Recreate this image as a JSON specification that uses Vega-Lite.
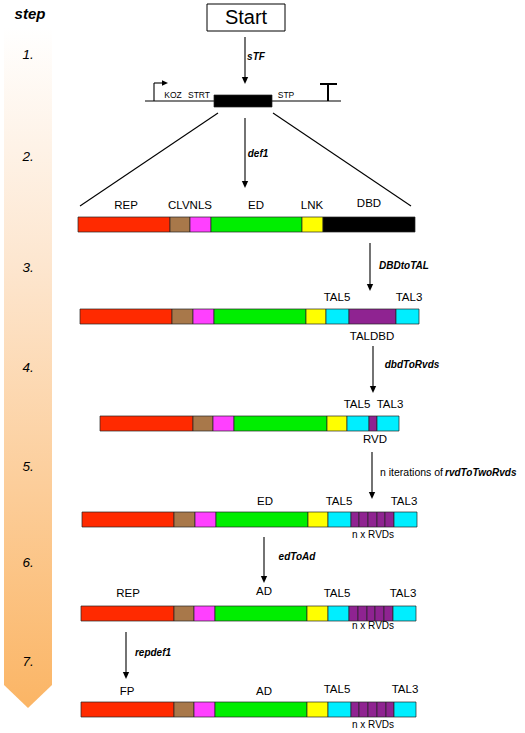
{
 "$schema": "https://vega.github.io/schema/vega-lite/v6.json",
 "width": 525, "height": 733, "padding": 0, "autosize": {"type": "none"},
 "background": "white",
 "config": {"view": {"stroke": null}, "font": "Liberation Sans"},
 "datasets": {
  "grad": [{"x":4,"y":27,"y2":685},{"x":28,"y":27,"y2":708},{"x":52,"y":27,"y2":685}],
  "segs": [
   {"part":"CDS","x":214,"x2":272,"y":95,"y2":107},
   {"part":"REP","x":78,"x2":170,"y":217,"y2":232},{"part":"CLV","x":170,"x2":190,"y":217,"y2":232},{"part":"NLS","x":190,"x2":211,"y":217,"y2":232},{"part":"ED","x":211,"x2":302,"y":217,"y2":232},{"part":"LNK","x":302,"x2":323,"y":217,"y2":232},{"part":"DBD","x":323,"x2":415,"y":217,"y2":232},
   {"part":"REP","x":80,"x2":172,"y":309,"y2":324},{"part":"CLV","x":172,"x2":193,"y":309,"y2":324},{"part":"NLS","x":193,"x2":214,"y":309,"y2":324},{"part":"ED","x":214,"x2":306,"y":309,"y2":324},{"part":"LNK","x":306,"x2":326,"y":309,"y2":324},{"part":"TAL","x":326,"x2":349,"y":309,"y2":324},{"part":"RVD","x":349,"x2":396,"y":309,"y2":324},{"part":"TAL","x":396,"x2":419,"y":309,"y2":324},
   {"part":"REP","x":100,"x2":193,"y":416,"y2":431},{"part":"CLV","x":193,"x2":213,"y":416,"y2":431},{"part":"NLS","x":213,"x2":234,"y":416,"y2":431},{"part":"ED","x":234,"x2":327,"y":416,"y2":431},{"part":"LNK","x":327,"x2":347,"y":416,"y2":431},{"part":"TAL","x":347,"x2":369,"y":416,"y2":431},{"part":"RVD","x":369,"x2":377,"y":416,"y2":431},{"part":"TAL","x":377,"x2":399,"y":416,"y2":431},
   {"part":"REP","x":82,"x2":174,"y":512,"y2":527},{"part":"CLV","x":174,"x2":195,"y":512,"y2":527},{"part":"NLS","x":195,"x2":216,"y":512,"y2":527},{"part":"ED","x":216,"x2":308,"y":512,"y2":527},{"part":"LNK","x":308,"x2":328,"y":512,"y2":527},{"part":"TAL","x":328,"x2":351,"y":512,"y2":527},{"part":"RVD","x":351,"x2":359,"y":512,"y2":527},{"part":"RVD","x":359,"x2":368,"y":512,"y2":527},{"part":"RVD","x":368,"x2":377,"y":512,"y2":527},{"part":"RVD","x":377,"x2":385,"y":512,"y2":527},{"part":"RVD","x":385,"x2":394,"y":512,"y2":527},{"part":"TAL","x":394,"x2":417,"y":512,"y2":527},
   {"part":"REP","x":81,"x2":174,"y":606,"y2":621},{"part":"CLV","x":174,"x2":194,"y":606,"y2":621},{"part":"NLS","x":194,"x2":215,"y":606,"y2":621},{"part":"ED","x":215,"x2":307,"y":606,"y2":621},{"part":"LNK","x":307,"x2":328,"y":606,"y2":621},{"part":"TAL","x":328,"x2":349,"y":606,"y2":621},{"part":"RVD","x":349,"x2":358,"y":606,"y2":621},{"part":"RVD","x":358,"x2":367,"y":606,"y2":621},{"part":"RVD","x":367,"x2":375,"y":606,"y2":621},{"part":"RVD","x":375,"x2":384,"y":606,"y2":621},{"part":"RVD","x":384,"x2":393,"y":606,"y2":621},{"part":"TAL","x":393,"x2":416,"y":606,"y2":621},
   {"part":"REP","x":81,"x2":174,"y":702,"y2":717},{"part":"CLV","x":174,"x2":194,"y":702,"y2":717},{"part":"NLS","x":194,"x2":215,"y":702,"y2":717},{"part":"ED","x":215,"x2":307,"y":702,"y2":717},{"part":"LNK","x":307,"x2":328,"y":702,"y2":717},{"part":"TAL","x":328,"x2":351,"y":702,"y2":717},{"part":"RVD","x":351,"x2":359,"y":702,"y2":717},{"part":"RVD","x":359,"x2":368,"y":702,"y2":717},{"part":"RVD","x":368,"x2":377,"y":702,"y2":717},{"part":"RVD","x":377,"x2":386,"y":702,"y2":717},{"part":"RVD","x":386,"x2":394,"y":702,"y2":717},{"part":"TAL","x":394,"x2":416,"y":702,"y2":717}
  ],
  "box": [{"x":207,"x2":285,"y":4,"y2":31}],
  "lines": [
   {"x":145,"x2":341,"y":101,"y2":101},
   {"x":218,"x2":80,"y":113,"y2":206},
   {"x":273,"x2":411,"y":113,"y2":206},
   {"x":154,"x2":154,"y":101,"y2":83},
   {"x":154,"x2":162,"y":83,"y2":83},
   {"x":245,"x2":245,"y":37,"y2":80},
   {"x":245,"x2":245,"y":118,"y2":184},
   {"x":370,"x2":370,"y":243,"y2":287},
   {"x":373,"x2":373,"y":346,"y2":389},
   {"x":372,"x2":372,"y":452,"y2":495},
   {"x":264,"x2":264,"y":537,"y2":579},
   {"x":126,"x2":126,"y":632,"y2":675}
  ],
  "thick": [
   {"x":328,"x2":328,"y":84,"y2":101},
   {"x":320,"x2":337,"y":84,"y2":84}
  ],
  "heads": [{"x":245,"y":84},{"x":245,"y":188},{"x":370,"y":291},{"x":373,"y":393},{"x":372,"y":499},{"x":264,"y":583},{"x":126,"y":679}],
  "rhead": [{"x":168,"y":83}],
  "start": [{"x":246,"y":18,"t":"Start"}],
  "lbl": [
   {"x":126,"y":206,"t":"REP"},{"x":190,"y":206,"t":"CLVNLS"},{"x":256,"y":206,"t":"ED"},{"x":312,"y":206,"t":"LNK"},{"x":369,"y":204,"t":"DBD"},
   {"x":337,"y":298,"t":"TAL5"},{"x":409,"y":298,"t":"TAL3"},{"x":372,"y":337,"t":"TALDBD"},
   {"x":357,"y":405,"t":"TAL5"},{"x":390,"y":405,"t":"TAL3"},{"x":375,"y":440,"t":"RVD"},
   {"x":265,"y":502,"t":"ED"},{"x":339,"y":502,"t":"TAL5"},{"x":404,"y":502,"t":"TAL3"},
   {"x":128,"y":594,"t":"REP"},{"x":264,"y":592,"t":"AD"},{"x":337,"y":594,"t":"TAL5"},{"x":403,"y":594,"t":"TAL3"},
   {"x":127,"y":692,"t":"FP"},{"x":264,"y":692,"t":"AD"},{"x":337,"y":690,"t":"TAL5"},{"x":405,"y":690,"t":"TAL3"}
  ],
  "small": [{"x":373,"y":535,"t":"n x RVDs"},{"x":373,"y":626,"t":"n x RVDs"},{"x":373,"y":725,"t":"n x RVDs"}],
  "tiny": [{"x":173,"y":95,"t":"KOZ"},{"x":199,"y":95,"t":"STRT"},{"x":286,"y":95,"t":"STP"}],
  "fn": [{"x":256,"y":57,"t":"sTF"},{"x":258,"y":154,"t":"def1"},{"x":404,"y":266,"t":"DBDtoTAL"},{"x":412,"y":365,"t":"dbdToRvds"},{"x":297,"y":557,"t":"edToAd"},{"x":153,"y":653,"t":"repdef1"}],
  "fnl": [{"x":445,"y":473,"t":"rvdToTwoRvds"}],
  "plain": [{"x":380,"y":473,"t":"n iterations of"}],
  "steps": [{"x":28,"y":55,"t":"1."},{"x":28,"y":157,"t":"2."},{"x":28,"y":268,"t":"3."},{"x":28,"y":368,"t":"4."},{"x":28,"y":467,"t":"5."},{"x":28,"y":563,"t":"6."},{"x":28,"y":662,"t":"7."}],
  "head": [{"x":30,"y":14,"t":"step"}]
 },
 "layer": [
  {"data":{"name":"grad"},
   "mark":{"type":"area","orient":"vertical","color":{"gradient":"linear","x1":0,"y1":0,"x2":0,"y2":1,"stops":[{"offset":0,"color":"#ffffff"},{"offset":0.35,"color":"#fde6cf"},{"offset":1,"color":"#fbb565"}]}},
   "encoding":{"x":{"field":"x","type":"quantitative","scale":{"domain":[0,525],"nice":false,"zero":false},"axis":null},
    "y":{"field":"y","type":"quantitative","scale":{"domain":[0,733],"nice":false,"zero":false,"reverse":true},"axis":null},
    "y2":{"field":"y2"}}},
  {"data":{"name":"lines"},"mark":{"type":"rule","color":"#000","strokeWidth":1.1},
   "encoding":{"x":{"field":"x","type":"quantitative","scale":{"domain":[0,525],"nice":false,"zero":false},"axis":null},"x2":{"field":"x2"},
    "y":{"field":"y","type":"quantitative","scale":{"domain":[0,733],"nice":false,"zero":false,"reverse":true},"axis":null},"y2":{"field":"y2"}}},
  {"data":{"name":"thick"},"mark":{"type":"rule","color":"#000","strokeWidth":2},
   "encoding":{"x":{"field":"x","type":"quantitative","scale":{"domain":[0,525],"nice":false,"zero":false},"axis":null},"x2":{"field":"x2"},
    "y":{"field":"y","type":"quantitative","scale":{"domain":[0,733],"nice":false,"zero":false,"reverse":true},"axis":null},"y2":{"field":"y2"}}},
  {"data":{"name":"segs"},"mark":{"type":"rect","stroke":"#222","strokeWidth":0.7},
   "encoding":{"x":{"field":"x","type":"quantitative","scale":{"domain":[0,525],"nice":false,"zero":false},"axis":null},"x2":{"field":"x2"},
    "y":{"field":"y","type":"quantitative","scale":{"domain":[0,733],"nice":false,"zero":false,"reverse":true},"axis":null},"y2":{"field":"y2"},
    "color":{"field":"part","type":"nominal","legend":null,"scale":{"domain":["REP","CLV","NLS","ED","LNK","DBD","TAL","RVD","CDS"],"range":["#ff2a00","#a8784a","#ff40ff","#00ee00","#ffff00","#000000","#00eeff","#8f2391","#000000"]}}}},
  {"data":{"name":"box"},"mark":{"type":"rect","fill":"#fff","stroke":"#000","strokeWidth":1},
   "encoding":{"x":{"field":"x","type":"quantitative","scale":{"domain":[0,525],"nice":false,"zero":false},"axis":null},"x2":{"field":"x2"},
    "y":{"field":"y","type":"quantitative","scale":{"domain":[0,733],"nice":false,"zero":false,"reverse":true},"axis":null},"y2":{"field":"y2"}}},
  {"data":{"name":"heads"},"mark":{"type":"point","shape":"M-1,-2.2L1,-2.2L0,0Z","size":40,"filled":true,"color":"#000","opacity":1},
   "encoding":{"x":{"field":"x","type":"quantitative","scale":{"domain":[0,525],"nice":false,"zero":false},"axis":null},
    "y":{"field":"y","type":"quantitative","scale":{"domain":[0,733],"nice":false,"zero":false,"reverse":true},"axis":null}}},
  {"data":{"name":"rhead"},"mark":{"type":"point","shape":"M0,0L-2.2,-1L-2.2,1Z","size":30,"filled":true,"color":"#000","opacity":1},
   "encoding":{"x":{"field":"x","type":"quantitative","scale":{"domain":[0,525],"nice":false,"zero":false},"axis":null},
    "y":{"field":"y","type":"quantitative","scale":{"domain":[0,733],"nice":false,"zero":false,"reverse":true},"axis":null}}},
  {"data":{"name":"start"},"mark":{"type":"text","fontSize":20,"align":"center","baseline":"middle","color":"#000"},
   "encoding":{"x":{"field":"x","type":"quantitative","scale":{"domain":[0,525],"nice":false,"zero":false},"axis":null},
    "y":{"field":"y","type":"quantitative","scale":{"domain":[0,733],"nice":false,"zero":false,"reverse":true},"axis":null},"text":{"field":"t"}}},
  {"data":{"name":"lbl"},"mark":{"type":"text","fontSize":11.5,"align":"center","baseline":"middle","color":"#000"},
   "encoding":{"x":{"field":"x","type":"quantitative","scale":{"domain":[0,525],"nice":false,"zero":false},"axis":null},
    "y":{"field":"y","type":"quantitative","scale":{"domain":[0,733],"nice":false,"zero":false,"reverse":true},"axis":null},"text":{"field":"t"}}},
  {"data":{"name":"small"},"mark":{"type":"text","fontSize":10,"align":"center","baseline":"middle","color":"#000"},
   "encoding":{"x":{"field":"x","type":"quantitative","scale":{"domain":[0,525],"nice":false,"zero":false},"axis":null},
    "y":{"field":"y","type":"quantitative","scale":{"domain":[0,733],"nice":false,"zero":false,"reverse":true},"axis":null},"text":{"field":"t"}}},
  {"data":{"name":"tiny"},"mark":{"type":"text","fontSize":8.5,"align":"center","baseline":"middle","color":"#000"},
   "encoding":{"x":{"field":"x","type":"quantitative","scale":{"domain":[0,525],"nice":false,"zero":false},"axis":null},
    "y":{"field":"y","type":"quantitative","scale":{"domain":[0,733],"nice":false,"zero":false,"reverse":true},"axis":null},"text":{"field":"t"}}},
  {"data":{"name":"fn"},"mark":{"type":"text","fontSize":10,"fontWeight":"bold","fontStyle":"italic","align":"center","baseline":"middle","color":"#000"},
   "encoding":{"x":{"field":"x","type":"quantitative","scale":{"domain":[0,525],"nice":false,"zero":false},"axis":null},
    "y":{"field":"y","type":"quantitative","scale":{"domain":[0,733],"nice":false,"zero":false,"reverse":true},"axis":null},"text":{"field":"t"}}},
  {"data":{"name":"fnl"},"mark":{"type":"text","fontSize":10,"fontWeight":"bold","fontStyle":"italic","align":"left","baseline":"middle","color":"#000"},
   "encoding":{"x":{"field":"x","type":"quantitative","scale":{"domain":[0,525],"nice":false,"zero":false},"axis":null},
    "y":{"field":"y","type":"quantitative","scale":{"domain":[0,733],"nice":false,"zero":false,"reverse":true},"axis":null},"text":{"field":"t"}}},
  {"data":{"name":"plain"},"mark":{"type":"text","fontSize":10.5,"align":"left","baseline":"middle","color":"#000"},
   "encoding":{"x":{"field":"x","type":"quantitative","scale":{"domain":[0,525],"nice":false,"zero":false},"axis":null},
    "y":{"field":"y","type":"quantitative","scale":{"domain":[0,733],"nice":false,"zero":false,"reverse":true},"axis":null},"text":{"field":"t"}}},
  {"data":{"name":"steps"},"mark":{"type":"text","fontSize":13.5,"fontStyle":"italic","align":"center","baseline":"middle","color":"#000"},
   "encoding":{"x":{"field":"x","type":"quantitative","scale":{"domain":[0,525],"nice":false,"zero":false},"axis":null},
    "y":{"field":"y","type":"quantitative","scale":{"domain":[0,733],"nice":false,"zero":false,"reverse":true},"axis":null},"text":{"field":"t"}}},
  {"data":{"name":"head"},"mark":{"type":"text","fontSize":15,"fontWeight":"bold","fontStyle":"italic","align":"center","baseline":"middle","color":"#000"},
   "encoding":{"x":{"field":"x","type":"quantitative","scale":{"domain":[0,525],"nice":false,"zero":false},"axis":null},
    "y":{"field":"y","type":"quantitative","scale":{"domain":[0,733],"nice":false,"zero":false,"reverse":true},"axis":null},"text":{"field":"t"}}}
 ]
}
